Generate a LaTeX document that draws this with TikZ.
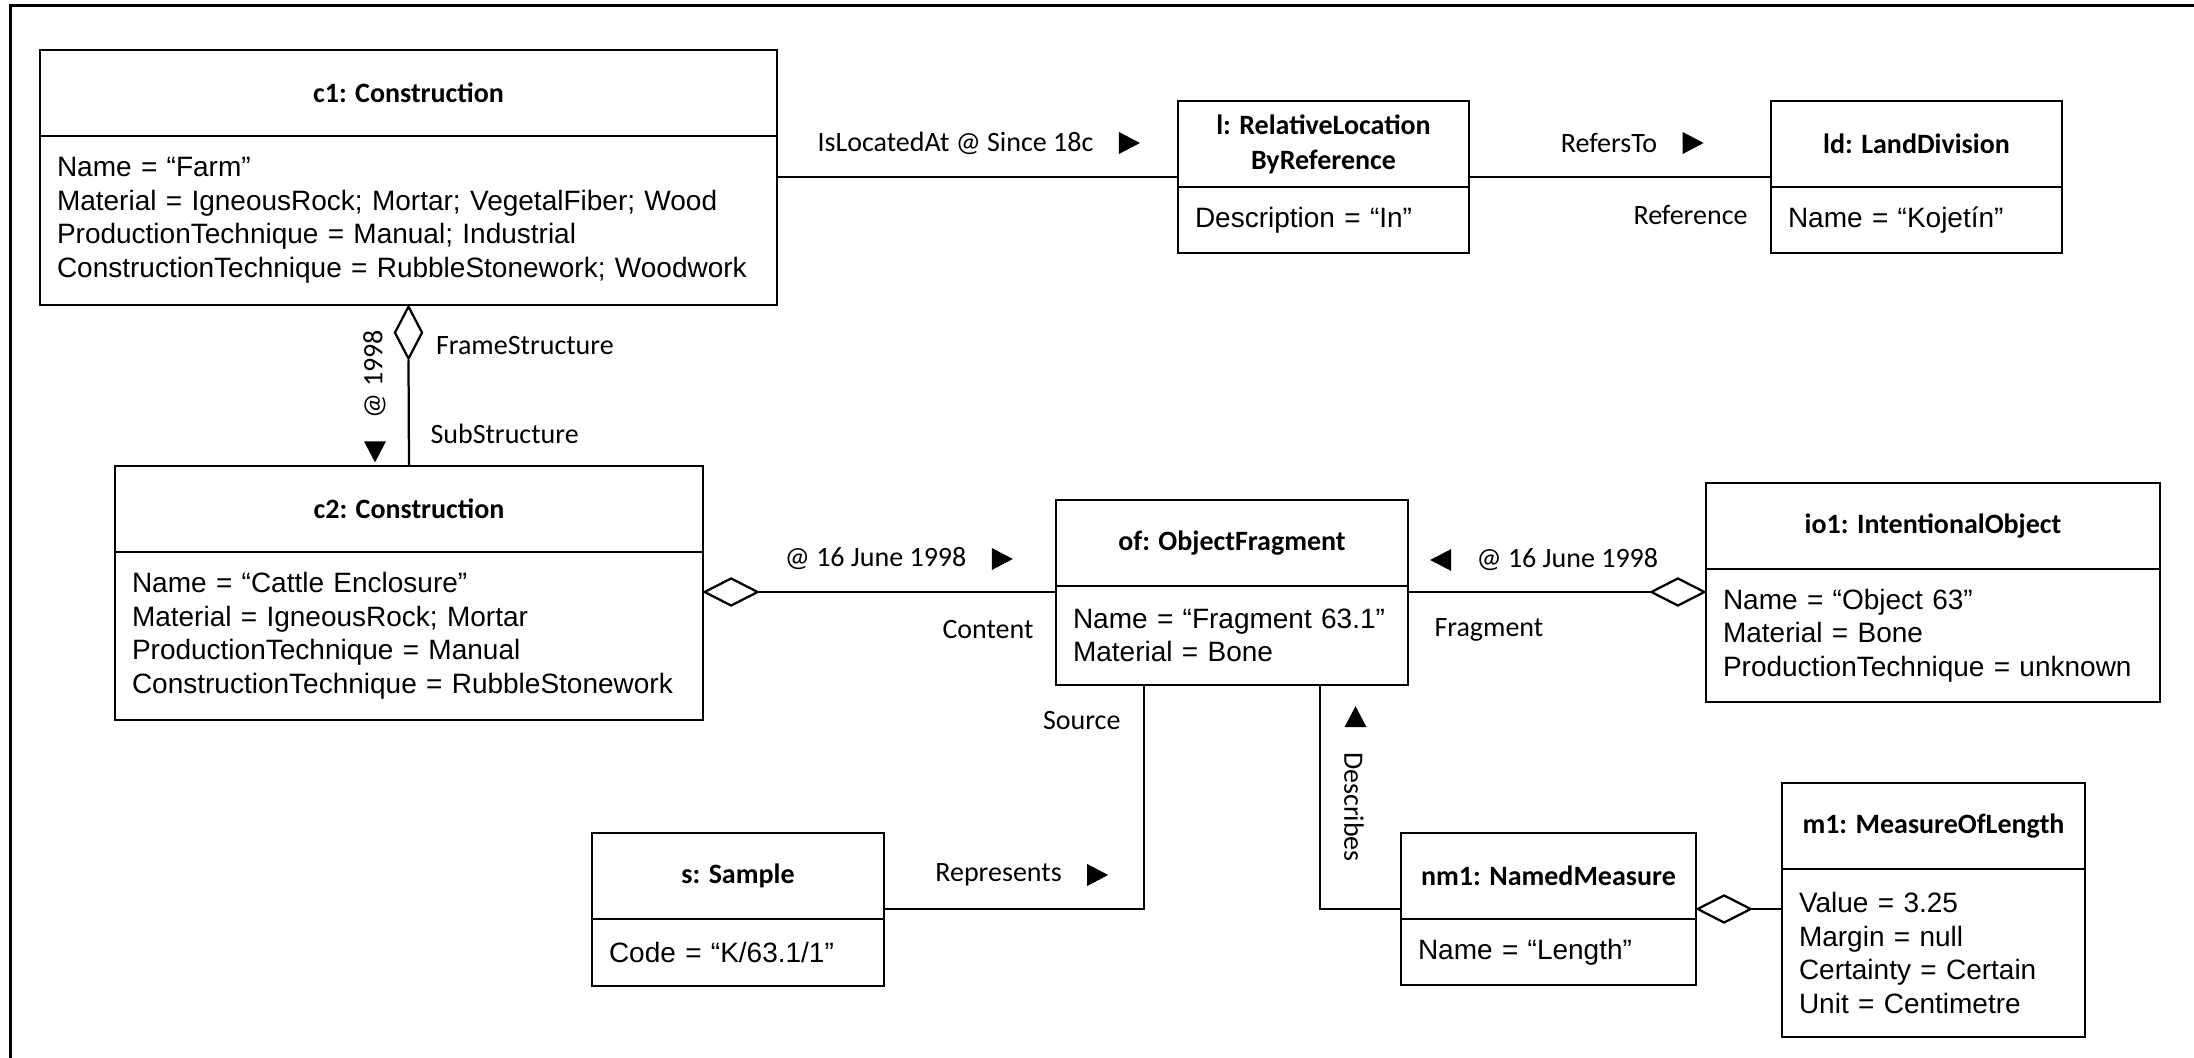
\documentclass[tikz,border=0pt]{standalone}
\usepackage{fontspec}
\setmainfont{Liberation Sans}
\newfontfamily\calfont{Carlito}
\usetikzlibrary{positioning,shapes.geometric}

\begin{document}
\begin{tikzpicture}[
  x=0.4pt, y=-0.4pt,
  objtitle/.style={draw, line width=1.1pt, font=\calfont\bfseries\fontsize{11.2}{14}\selectfont,
    minimum width=#1*0.4pt, minimum height=86*0.4pt, inner sep=0pt, outer sep=0pt, align=center, anchor=north west},
  objattr/.style 2 args={draw, line width=1.1pt, font=\fontsize{11.2}{13.4}\selectfont,
    text width=#1*0.4pt-13.6pt, minimum height=#2*0.4pt, inner xsep=6.8pt, inner ysep=0pt, outer sep=0pt, align=left},
  ]
  \tikzset{%
    lbl/.style={font=\calfont\fontsize{11.2}{13}\selectfont, inner sep=0pt},
    tri/.style={isosceles triangle, isosceles triangle stretches, fill, inner sep=0pt,
      minimum width=22*0.4pt, minimum height=21*0.4pt},
    agg/.style={diamond, draw, fill=white, line width=0.9pt, inner sep=0pt,
      minimum width=54*0.4pt, minimum height=28*0.4pt},
    link/.style={line width=0.9pt},
  }
  \useasboundingbox (0,0) rectangle (2194,1058);
  \draw[line width=1.2pt] (10,1058) -- (10,6) -- (2194,6);
  %Objects
  \node[objtitle=737] (c1t) at (40,50) {c1: Construction};
  \node[objattr={737}{169}, below=0pt of c1t] (c1a) {Name = “Farm”\\Material = IgneousRock; Mortar; VegetalFiber; Wood\\ProductionTechnique = Manual; Industrial\\ConstructionTechnique = RubbleStonework; Woodwork};
  \node[objtitle=291] (lt) at (1178,101) {l: RelativeLocation\\ByReference};
  \node[objattr={291}{66}, below=0pt of lt] (la) {Description = “In”};
  \node[objtitle=291] (ldt) at (1771,101) {ld: LandDivision};
  \node[objattr={291}{66}, below=0pt of ldt] (lda) {Name = “Kojetín”};
  \node[objtitle=588] (c2t) at (115,466) {c2: Construction};
  \node[objattr={588}{168}, below=0pt of c2t] (c2a) {Name = “Cattle Enclosure”\\Material = IgneousRock; Mortar\\ProductionTechnique = Manual\\ConstructionTechnique = RubbleStonework};
  \node[objtitle=352] (oft) at (1056,500) {of: ObjectFragment};
  \node[objattr={352}{99}, below=0pt of oft] (ofa) {Name = “Fragment 63.1”\\Material = Bone};
  \node[objtitle=454] (iot) at (1706,483) {io1: IntentionalObject};
  \node[objattr={454}{133}, below=0pt of iot] (ioa) {Name = “Object 63”\\Material = Bone\\ProductionTechnique = unknown};
  \node[objtitle=292] (st) at (592,833) {s: Sample};
  \node[objattr={292}{67}, below=0pt of st] (sa) {Code = “K/63.1/1”};
  \node[objtitle=295] (nmt) at (1401,833) {nm1: NamedMeasure};
  \node[objattr={295}{66}, below=0pt of nmt] (nma) {Name = “Length”};
  \node[objtitle=303] (mt) at (1782,783) {m1: MeasureOfLength};
  \node[objattr={303}{168}, below=0pt of mt] (ma) {Value = 3.25\\Margin = null\\Certainty = Certain\\Unit = Centimetre};
  %Links
  % c1 - l
  \coordinate (p1) at ([yshift=4pt]lt.south west);
  \draw[link] (p1 -| c1a.east) -- node[lbl, xshift=-8.8pt, yshift=13.6pt] (locl) {IsLocatedAt @ Since 18c} (p1);
  \node[tri] (loctri) at ([xshift=12.4pt]locl.east) {};
  % l - ld
  \coordinate (p2) at ([yshift=4pt]ldt.south west);
  \draw[link] (p2 -| lt.east) -- node[lbl, xshift=-4.4pt, yshift=13.6pt] (refl) {RefersTo} (p2);
  \node[tri] (reftri) at ([xshift=12.4pt]refl.east) {};
  \node[lbl, anchor=east] (refr) at ([xshift=-9.2pt, yshift=-15.2pt]p2) {Reference};
  % c1 - c2
  \node[agg, minimum width=28*0.4pt, minimum height=53*0.4pt, anchor=north] (d1) at (c1a.south) {};
  \draw[link] (d1.south) -- (c2t.north);
  \node[lbl, rotate=90] (yr) at ([xshift=-13.6pt, yshift=-27.6pt]c1a.south) {@ 1998};
  \node[tri, rotate=-90] (yrtri) at ([xshift=-13.4pt, yshift=-57.2pt]c1a.south) {};
  \node[lbl, anchor=west] (frame) at ([xshift=10.8pt, yshift=-16.4pt]c1a.south) {FrameStructure};
  \node[lbl, anchor=west] (sub) at ([xshift=8.4pt, yshift=12.8pt]c2t.north) {SubStructure};
  % c2 - of
  \coordinate (p3) at ([yshift=-2.4pt]oft.south west);
  \node[agg, anchor=west] (d2) at (p3 -| c2a.east) {};
  \draw[link] (d2.east) -- node[lbl, xshift=-12.8pt, yshift=13.2pt] (junel) {@ 16 June 1998} (p3);
  \node[tri] (junetri) at ([xshift=12.4pt]junel.east) {};
  \node[lbl, anchor=east] (cont) at ([xshift=-8.8pt, yshift=-15.2pt]p3) {Content};
  % of - io1
  \coordinate (p4) at (p3 -| ofa.east);
  \node[agg, anchor=east] (d3) at (p3 -| ioa.west) {};
  \draw[link] (p4) -- node[lbl, xshift=15.4pt, yshift=12.8pt] (fragl) {@ 16 June 1998} (d3.west);
  \node[tri, rotate=180] (fragtri) at ([xshift=-12.4pt]fragl.west) {};
  \node[lbl, anchor=west] (frag) at ([xshift=10.4pt, yshift=-15.2pt]p4) {Fragment};
  % of - s
  \coordinate (q1) at ([xshift=35.2pt]ofa.south west);
  \draw[link] (q1) |- node[lbl, pos=0.75, xshift=-6.2pt, yshift=13.6pt] (repl) {Represents} ([yshift=4pt]st.south east);
  \node[tri] (reptri) at ([xshift=12.4pt]repl.east) {};
  \node[lbl, anchor=east] (src) at ([xshift=-9.2pt, yshift=-14.4pt]q1) {Source};
  % of - nm1
  \coordinate (q2) at ([xshift=-35.2pt]ofa.south east);
  \draw[link] (q2) |- ([yshift=4pt]nmt.south west);
  \node[tri, rotate=90] (destri) at ([xshift=14.2pt, yshift=-14.2pt]q2) {};
  \node[lbl, rotate=-90] (desc) at ([xshift=13.6pt, yshift=-48.8pt]q2) {Describes};
  % nm1 - m1
  \coordinate (p5) at ([yshift=4pt]nmt.south east);
  \node[agg, anchor=west] (d4) at (p5) {};
  \draw[link] (d4.east) -- (p5 -| ma.west);
\end{tikzpicture}
\end{document}
